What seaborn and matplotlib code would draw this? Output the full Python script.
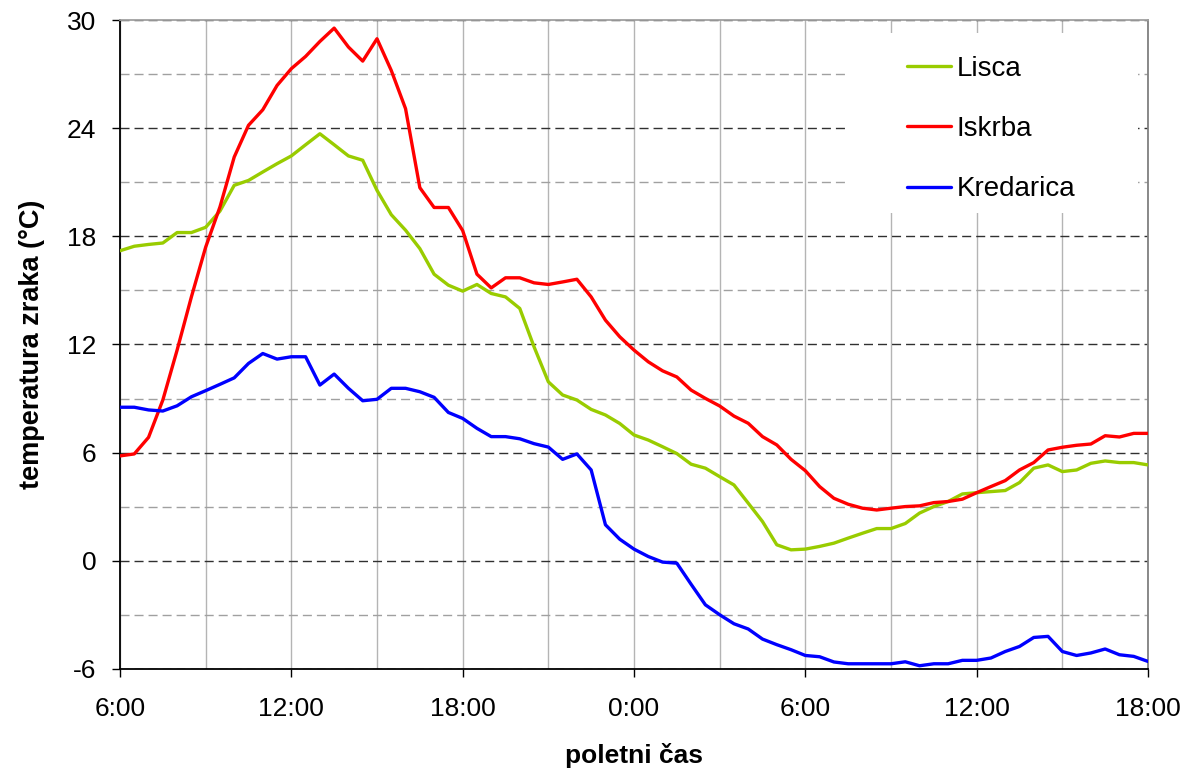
import numpy as np
import pandas as pd
import matplotlib
matplotlib.use("Agg")
import matplotlib.pyplot as plt
import seaborn as sns
from matplotlib.ticker import MultipleLocator
from matplotlib.patches import Rectangle

# half-hourly air temperature, 6:00 to 18:00 next day
hours = np.arange(0, 36.5, 0.5)

lisca = [17.2, 17.45, 17.55, 17.63, 18.21, 18.21, 18.5, 19.4, 20.83, 21.1,
         21.57, 22.03, 22.46, 23.08, 23.69, 23.08, 22.46, 22.22, 20.55, 19.2,
         18.34, 17.32, 15.9, 15.29, 14.96, 15.33, 14.83, 14.64, 14.0, 11.87,
         9.93, 9.2, 8.92, 8.4, 8.09, 7.62, 6.98, 6.7, 6.33, 5.95,
         5.36, 5.14, 4.67, 4.21, 3.2, 2.18, 0.89, 0.61, 0.65, 0.8,
         0.98, 1.26, 1.53, 1.79, 1.79, 2.07, 2.65, 3.01, 3.29, 3.71,
         3.78, 3.84, 3.9, 4.34, 5.14, 5.32, 4.95, 5.04, 5.41, 5.54,
         5.45, 5.45, 5.32]

iskrba = [5.82, 5.93, 6.85, 8.92, 11.69, 14.64, 17.4, 19.63, 22.4, 24.16,
          25.02, 26.37, 27.3, 27.98, 28.81, 29.55, 28.5, 27.72, 28.96, 27.2,
          25.08, 20.7, 19.6, 19.6, 18.32, 15.9, 15.14, 15.7, 15.7, 15.42,
          15.33, 15.47, 15.62, 14.64, 13.35, 12.43, 11.69, 11.04, 10.54, 10.2,
          9.47, 9.01, 8.59, 8.03, 7.63, 6.89, 6.43, 5.63, 5.0, 4.12,
          3.47, 3.14, 2.92, 2.82, 2.92, 3.01, 3.05, 3.23, 3.29, 3.42,
          3.78, 4.12, 4.45, 5.04, 5.45, 6.15, 6.3, 6.41, 6.48, 6.94,
          6.87, 7.07, 7.07]

kredarica = [8.52, 8.52, 8.37, 8.31, 8.6, 9.1, 9.44, 9.79, 10.15, 10.95,
             11.5, 11.19, 11.32, 11.32, 9.75, 10.36, 9.57, 8.88, 8.96, 9.57,
             9.57, 9.38, 9.07, 8.23, 7.9, 7.35, 6.89, 6.89, 6.77, 6.5,
             6.31, 5.63, 5.93, 5.04, 2.0, 1.2, 0.65, 0.24, -0.07, -0.13,
             -1.3, -2.44, -2.99, -3.49, -3.78, -4.34, -4.65, -4.93, -5.25, -5.32,
             -5.61, -5.71, -5.71, -5.71, -5.71, -5.6, -5.82, -5.71, -5.71, -5.52,
             -5.52, -5.39, -5.03, -4.75, -4.25, -4.19, -5.03, -5.25, -5.11, -4.89,
             -5.21, -5.3, -5.58]

stations = ["Lisca", "Iskrba", "Kredarica"]
colors = {"Lisca": "#99cc00", "Iskrba": "#ff0000", "Kredarica": "#0000ff"}

xtick_pos = [0, 6, 12, 18, 24, 30, 36]
xtick_labels = ["6:00", "12:00", "18:00", "0:00", "6:00", "12:00", "18:00"]
ytick_pos = [-6, 0, 6, 12, 18, 24, 30]

df = pd.DataFrame({
    "hour": np.tile(hours, 3),
    "temp": lisca + iskrba + kredarica,
    "station": np.repeat(stations, len(hours)),
})

sns.set_style("white")
plt.rcParams["font.family"] = ["Liberation Sans", "DejaVu Sans"]
plt.rcParams["axes.unicode_minus"] = False
for key in ["text.color", "axes.labelcolor", "xtick.color", "ytick.color"]:
    plt.rcParams[key] = "black"

fig = plt.figure(figsize=(11.87, 7.73), dpi=100)
ax = fig.add_axes([120 / 1187, 1 - 669 / 773, 1028 / 1187, 649 / 773])

sns.lineplot(data=df, x="hour", y="temp", hue="station", hue_order=stations,
             palette=colors, linewidth=2.4, ax=ax, legend=False, zorder=3)

ax.set_xlim(0, 36)
ax.set_ylim(-6, 30)
ax.set_xticks(xtick_pos)
ax.set_xticklabels(xtick_labels)
ax.xaxis.set_minor_locator(MultipleLocator(3))
ax.set_yticks(ytick_pos)
ax.yaxis.set_minor_locator(MultipleLocator(3))

ax.set_axisbelow(True)
ax.xaxis.grid(True, which="both", color="#b4b4b4", linestyle="-", linewidth=1)
ax.yaxis.grid(True, which="major", color="#303030", linestyle=(0, (6.5, 3.6)), linewidth=1)
ax.yaxis.grid(True, which="minor", color="#a0a0a0", linestyle=(0, (6.5, 3.6)), linewidth=1)

ax.tick_params(axis="both", which="major", direction="out", length=6, width=1,
               color="black", labelsize=19, left=True, bottom=True)
ax.tick_params(axis="x", which="major", pad=14)
ax.tick_params(axis="y", which="major", pad=11)
ax.tick_params(axis="both", which="minor", length=0)

for side in ["left", "bottom"]:
    ax.spines[side].set_color("black")
    ax.spines[side].set_linewidth(1.3)
ax.spines["top"].set_color("#a0a0a0")
ax.spines["right"].set_color("#808080")
ax.spines["top"].set_linewidth(1.3)
ax.spines["right"].set_linewidth(1.3)

ax.set_xlabel("poletni čas", fontsize=19, fontweight="bold", labelpad=16)
ax.set_ylabel("temperatura zraka (°C)", fontsize=19.5, fontweight="bold", labelpad=16)

# white area behind the legend, hiding the grid like the original
ax.add_patch(Rectangle(((845 - 120) / 1028, (669 - 213) / 649),
                       (1138 - 845) / 1028, (213 - 33) / 649,
                       transform=ax.transAxes, facecolor="white",
                       edgecolor="none", zorder=2))

handles = [plt.Line2D([], [], color=colors[s], linewidth=2.4) for s in stations]
leg = ax.legend(handles, stations, loc="upper left",
                bbox_to_anchor=((876 - 120) / 1028, (669 - 25) / 649),
                borderaxespad=0, frameon=False, fontsize=20, labelspacing=1.24,
                handlelength=1.6, handletextpad=0.2, borderpad=1.1)
leg.set_zorder(5)

fig.savefig("out.png", dpi=100)
